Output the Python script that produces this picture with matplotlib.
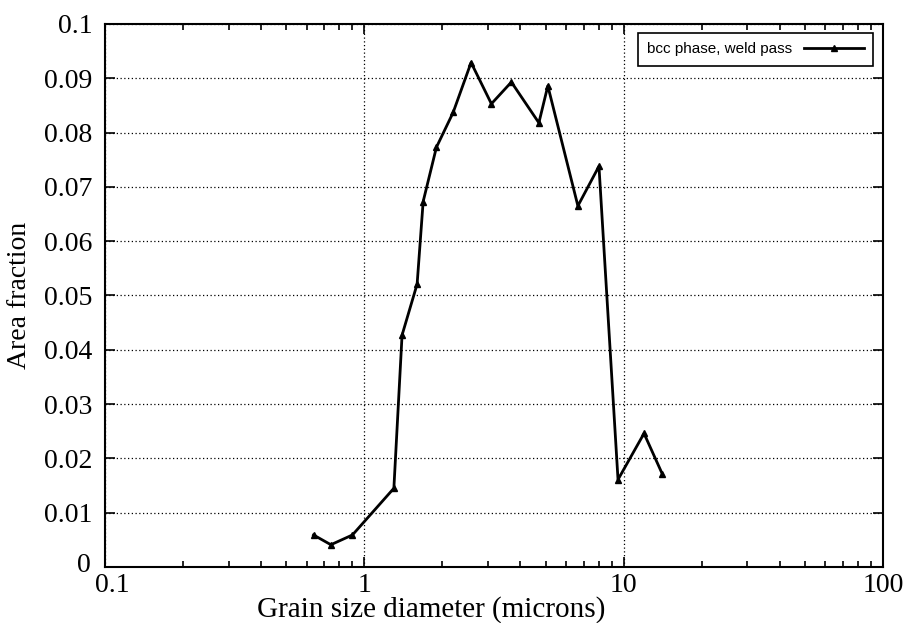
import matplotlib.pyplot as plt
import matplotlib.transforms as mtransforms
import numpy as np
from matplotlib.ticker import FixedLocator, FixedFormatter, LogLocator, NullFormatter

# grain size diameter (microns) and area fraction
grain_size = [0.637, 0.743, 0.90, 1.30, 1.398, 1.598, 1.686, 1.897, 2.2, 2.58,
              3.09, 3.69, 4.71, 5.10, 6.66, 8.03, 9.51, 11.98, 14.1]
area_frac = [0.0059, 0.0041, 0.0059, 0.0145, 0.0427, 0.0521, 0.0673, 0.0773, 0.0837, 0.0929,
             0.0853, 0.0893, 0.0818, 0.0886, 0.0665, 0.0738, 0.0161, 0.0246, 0.0171]

x_ticks = [0.1, 1, 10, 100]
x_labels = ["0.1", "1", "10", "100"]
y_ticks = [0, 0.01, 0.02, 0.03, 0.04, 0.05, 0.06, 0.07, 0.08, 0.09, 0.1]
y_labels = ["0", "0.01", "0.02", "0.03", "0.04", "0.05", "0.06", "0.07", "0.08", "0.09", "0.1"]

serif = "Liberation Serif"

fig = plt.figure(figsize=(9.08, 6.23), dpi=100)
ax = fig.add_axes([0.1156, 0.0899, 0.8569, 0.8716])

ax.plot(grain_size, area_frac, color="black", lw=2, marker="^", ms=5,
        label="bcc phase, weld pass")

ax.set_xscale("log")
ax.set_xlim(0.1, 100)
ax.set_ylim(0, 0.1)

ax.xaxis.set_major_locator(FixedLocator(x_ticks))
ax.xaxis.set_major_formatter(FixedFormatter(x_labels))
ax.xaxis.set_minor_locator(LogLocator(base=10, subs=np.arange(2, 10)))
ax.xaxis.set_minor_formatter(NullFormatter())
ax.yaxis.set_major_locator(FixedLocator(y_ticks))
ax.yaxis.set_major_formatter(FixedFormatter(y_labels))

ax.tick_params(which="both", direction="in", top=True, right=True, width=1.2)
ax.tick_params(which="major", length=7, labelsize=20)
ax.tick_params(axis="x", which="major", pad=4)
ax.tick_params(axis="y", which="major", pad=9)
ax.tick_params(which="minor", length=4)
for lab in ax.get_xticklabels() + ax.get_yticklabels():
    lab.set_fontfamily(serif)

# corner labels "0" and "0.1" sit apart a little, like the original
xl = ax.get_xticklabels()[0]
xl.set_transform(xl.get_transform() + mtransforms.ScaledTranslation(7 / 100, 0, fig.dpi_scale_trans))
yl = ax.get_yticklabels()[0]
yl.set_transform(yl.get_transform() + mtransforms.ScaledTranslation(-2 / 100, 4 / 100, fig.dpi_scale_trans))

ax.grid(True, which="major", color="black", linestyle=(0, (1, 2)), lw=0.9)
for s in ax.spines.values():
    s.set_linewidth(1.5)

ax.set_xlabel("Grain size diameter (microns)", fontsize=21, family=serif)
ax.xaxis.set_label_coords(0.419, -0.053)
ax.set_ylabel("Area fraction", fontsize=20, family=serif)
ax.yaxis.set_label_coords(-0.094, 0.5)

leg = ax.legend(loc="upper right", markerfirst=False, fancybox=False, framealpha=1,
                edgecolor="black", prop={"family": "Liberation Sans", "size": 11},
                borderpad=0.6, handlelength=3.9, borderaxespad=0,
                bbox_to_anchor=(0.987, 0.983))
leg.get_frame().set_linewidth(1.2)

plt.savefig("out.png")
